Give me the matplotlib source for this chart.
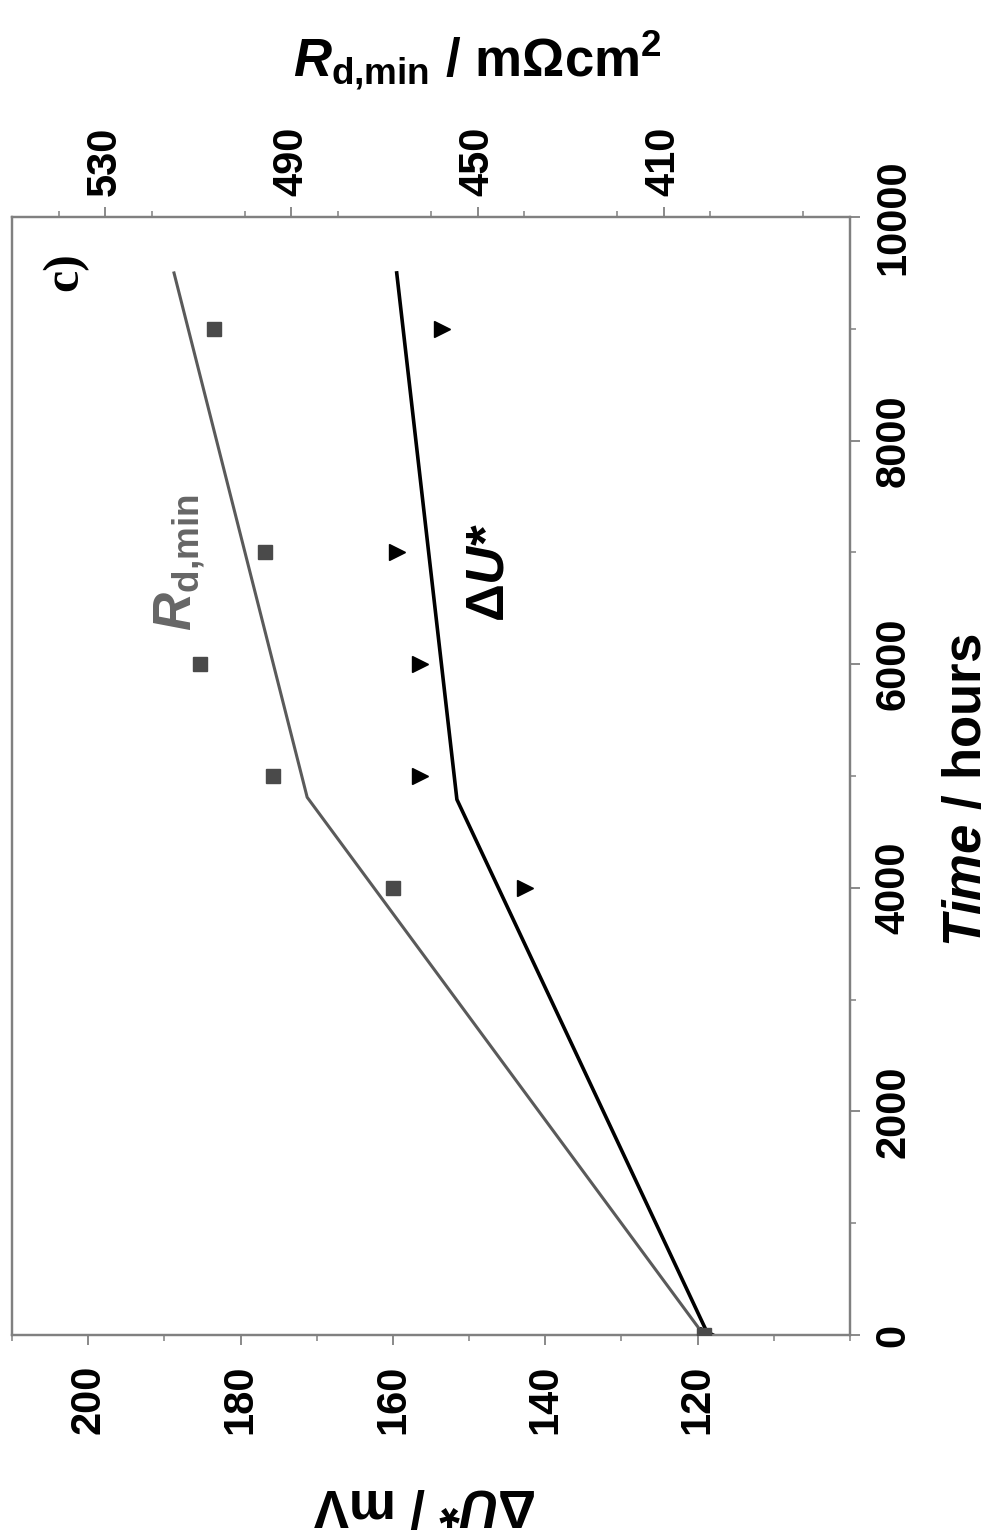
import matplotlib
matplotlib.use('Agg')
import matplotlib.pyplot as plt
from matplotlib.ticker import FixedLocator, MultipleLocator

plt.rcParams['font.family'] = ['Liberation Sans', 'DejaVu Sans']
plt.rcParams['font.weight'] = 'bold'
plt.rcParams['axes.labelweight'] = 'bold'
plt.rcParams['mathtext.fontset'] = 'custom'
plt.rcParams['mathtext.rm'] = 'Liberation Sans'
plt.rcParams['mathtext.it'] = 'Liberation Sans:italic:bold'
plt.rcParams['mathtext.bf'] = 'Liberation Sans:bold'
plt.rcParams['mathtext.sf'] = 'Liberation Sans:italic'

# measured points (time in hours)
times = [0, 4000, 5000, 6000, 7000, 9000]
du_vals = [118.6, 142.7, 156.4, 156.4, 159.5, 153.6]     # mV
rd_vals = [401.4, 468.2, 493.9, 509.6, 495.7, 506.6]     # mOhm cm2

# piecewise linear fits
du_fit_t = [0, 4790, 9500]
du_fit = [118.6, 151.6, 159.5]
rd_fit_t = [0, 4810, 9500]
rd_fit = [401.4, 486.6, 515.2]

du_ticks = [120, 140, 160, 180, 200]
rd_ticks = [410, 450, 490, 530]
time_ticks = [0, 2000, 4000, 6000, 8000, 10000]

frame = '#808080'

fig = plt.figure(figsize=(10, 15.35), dpi=100)
ax = fig.add_axes([0.012, 0.1303, 0.838, 0.7283])

# the chart is drawn turned by 90 degrees: time runs upwards
ax.plot(du_fit, du_fit_t, color='black', lw=2.6, zorder=3)
ax.plot(du_vals, times, ls='none', marker='>', color='black', ms=12, zorder=4)
ax.set_xlim(210, 100)
ax.set_ylim(0, 10000)

ax2 = ax.twiny()
ax2.plot(rd_fit, rd_fit_t, color='#5a5a5a', lw=2.2, zorder=3)
ax2.plot(rd_vals, times, ls='none', marker='s', color='#4a4a4a', ms=10, zorder=4)
ax2.set_xlim(550, 370)

for a in (ax, ax2):
    for s in a.spines.values():
        s.set_color(frame)
        s.set_linewidth(1.6)

ax.xaxis.set_major_locator(FixedLocator(du_ticks))
ax.xaxis.set_minor_locator(MultipleLocator(10))
ax.yaxis.set_major_locator(FixedLocator(time_ticks))
ax.yaxis.set_minor_locator(MultipleLocator(1000))
ax.yaxis.tick_right()
ax2.xaxis.set_major_locator(FixedLocator(rd_ticks))
ax2.xaxis.set_minor_locator(MultipleLocator(20))

ax.tick_params(axis='x', which='major', direction='out', length=7, width=1.3,
               color=frame, labelsize=30, labelrotation=90, pad=14)
ax.tick_params(axis='x', which='minor', direction='out', length=4, width=1.1, color=frame)
ax.tick_params(axis='y', which='major', direction='out', length=7, width=1.3,
               color=frame, labelsize=30, labelrotation=90, pad=10)
ax.tick_params(axis='y', which='minor', direction='out', length=4, width=1.1, color=frame)
ax2.tick_params(axis='x', which='major', direction='out', length=7, width=1.3,
                color=frame, labelsize=30, labelrotation=90, pad=8)
ax2.tick_params(axis='x', which='minor', direction='out', length=4, width=1.1, color=frame)
for lab in ax.get_yticklabels():
    lab.set_va('center')

ax.set_xlabel('Δ$\\mathit{U}$* / mV', fontsize=38, fontweight='bold', rotation=180)
ax.xaxis.label.set_va('center')
ax.xaxis.set_label_coords(0.493, -0.150)

ax.yaxis.set_label_position('right')
ax.set_ylabel('$\\mathit{Time}$ / hours', fontsize=38, fontweight='bold', rotation=90)
ax.yaxis.label.set_va('center')
ax.yaxis.set_label_coords(1.140, 0.4875)

ax2.set_xlabel('$\\mathit{R}_{\\mathrm{d{,}min}}$ / mΩcm$^{\\mathbf{2}}$',
               fontsize=38, fontweight='bold')
ax2.xaxis.label.set_va('center')
ax2.xaxis.set_label_coords(0.555, 1.14)

ax.text(0.2005, 0.691, '$\\mathsf{R}_{\\mathrm{d{,}min}}$', transform=ax.transAxes,
        rotation=90, fontsize=38, color='#666666', fontweight='normal',
        ha='center', va='center')
ax.text(0.570, 0.6816, 'Δ$\\mathit{U}$*', transform=ax.transAxes,
        rotation=90, fontsize=38, color='black', ha='center', va='center')
ax.text(0.064, 0.951, 'c)', transform=ax.transAxes, rotation=90, fontsize=36,
        family='Liberation Serif', fontweight='bold', ha='center', va='center')

fig.savefig('out.png', dpi=100)
